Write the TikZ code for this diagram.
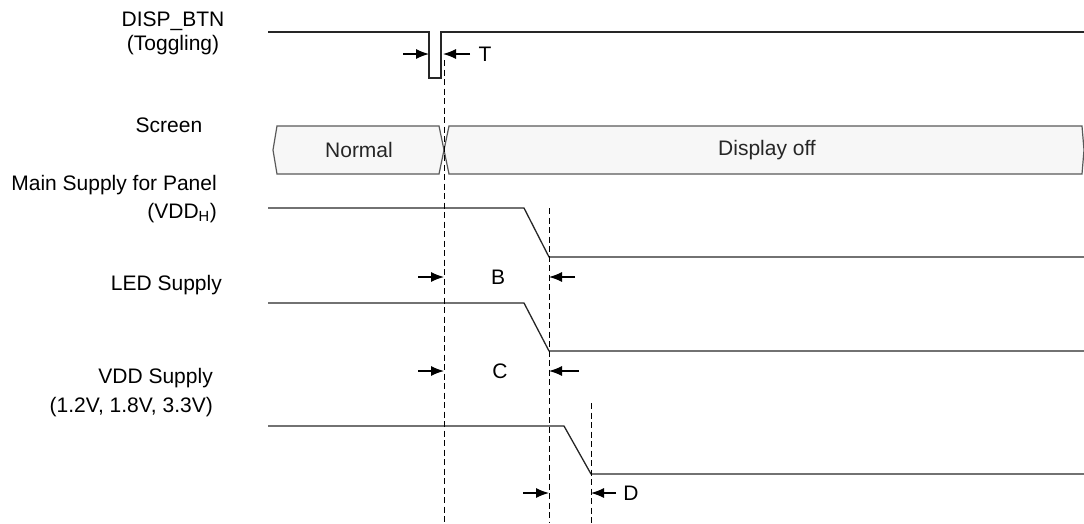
\documentclass[tikz,border=0pt]{standalone}
\usepackage{fontspec}
\setmainfont{Liberation Sans}
\usetikzlibrary{arrows.meta,calc}

\begin{document}
\begin{tikzpicture}[
    x=1pt, y=-1pt,
    signame/.style={align=right, font=\fontsize{21}{24}\selectfont, inner sep=0pt},
    wave/.style={line width=1.3pt, black!85},
    statebox/.style={draw=black!65, line width=1.2pt, fill=black!3},
    marker/.style={dashed, line width=1pt, dash pattern=on 6pt off 3.5pt},
    dimarrow/.style={-{Latex[length=13pt,width=10pt]}, line width=1.2pt},
    dimtext/.style={font=\fontsize{21}{24}\selectfont, inner sep=0pt}
]
\useasboundingbox (0,0) rectangle (1084,523);

% Signal names
\node[signame, align=center] (btn_name) at (173,33.5) {DISP\_BTN\\(Toggling)};
\node[signame] (screen_name) at (169,125) {Screen};
\node[signame, anchor=east] (vddh_name) at (217,199) {Main Supply for Panel\\[4pt](VDD\textsubscript{H})};
\node[signame, anchor=east] (led_name) at (222,285) {LED Supply};
\node[signame, anchor=east] (vdd_name) at (213,392.5) {VDD Supply\\[5pt](1.2V, 1.8V, 3.3V)};

% Timing points
\coordinate (t_off) at (444,0);
\coordinate (t_b) at (549,0);
\coordinate (t_d) at (591,0);

% DISP_BTN pulse
\draw[wave] (268,32) -- (429,32) -- (429,78) -- (441,78) -- (441,32) -- (1084,32);

% Screen states
\draw[statebox] (277,126) -- (439,126) -- (444,150) -- (439,174) -- (277,174) -- (273,150) -- cycle;
\draw[statebox] (449,126) -- (1082,126) -- (1084,150) -- (1082,174) -- (449,174) -- (444,150) -- cycle;
\node[dimtext, text=black!85] (normal) at (359,150) {Normal};
\node[dimtext, text=black!85] (dispoff) at (767,150) {Display off};

% Supplies
\draw[wave] (268,208) -- (524,208) -- (549,257) -- (1084,257);
\draw[wave] (268,303) -- (524,303) -- (549,351) -- (1084,351);
\draw[wave] (268,426) -- (564,426) -- (591,474) -- (1084,474);

% Dashed markers
\draw[marker] (t_off |- 0,60) -- (t_off |- 0,523);
\draw[marker] (t_b |- 0,208) -- (t_b |- 0,523);
\draw[marker] (t_d |- 0,403) -- (t_d |- 0,523);

% T
\draw[dimarrow] (403,54) -- (429,54);
\draw[dimarrow] (470,54) -- (443,54);
\node[dimtext] (lbl_t) at (485,54) {T};

% B
\draw[dimarrow] (418,277) -- (t_off |- 0,277);
\draw[dimarrow] (575,277) -- (t_b |- 0,277);
\node[dimtext] (lbl_b) at (498,277) {B};

% C
\draw[dimarrow] (418,371) -- (t_off |- 0,371);
\draw[dimarrow] (579,371) -- (t_b |- 0,371);
\node[dimtext] (lbl_c) at (500,371) {C};

% D
\draw[dimarrow] (523,493) -- (t_b |- 0,493);
\draw[dimarrow] (616,493) -- (t_d |- 0,493);
\node[dimtext] (lbl_d) at (631,493) {D};

\end{tikzpicture}
\end{document}
